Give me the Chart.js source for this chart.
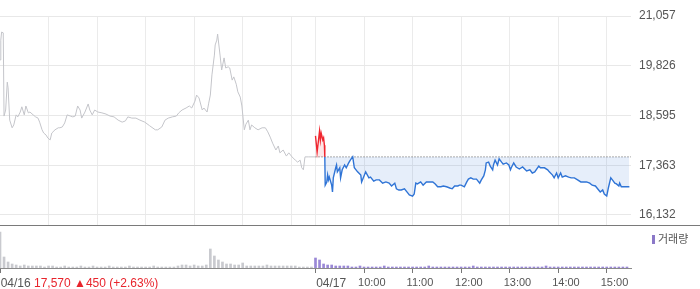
<!DOCTYPE html>
<html lang="ko">
<head>
<meta charset="utf-8">
<title>주가 차트</title>
<script src="https://cdn.jsdelivr.net/npm/chart.js@4.4.1/dist/chart.umd.min.js"></script>
<style>
  body { margin: 0; background: #fff; }
  #wrap { position: relative; width: 700px; height: 289px; font-family: 'Liberation Sans', Arial, sans-serif; }
  #pricePane { height: 225px; border-bottom: 1px solid #7a7a7a; }
  #volumePane { height: 63px; }
  canvas { display: block; }
  #quote { position: absolute; left: 34px; top: 276px; font-size: 12px; line-height: 14px; color: #e8242c; white-space: nowrap; }
  #volLegend { position: absolute; left: 652px; top: 231px; font-size: 11px; line-height: 14px; color: #555; font-family: 'Noto Sans CJK KR', sans-serif; }
  #volLegend i { display: inline-block; width: 3px; height: 9px; background: #8b78c8; margin-right: 3px; vertical-align: -1px; }
</style>
</head>
<body>
<div id="wrap">
  <div id="pricePane"><canvas id="priceChart" width="700" height="225"></canvas></div>
  <div id="volumePane"><canvas id="volumeChart" width="700" height="63"></canvas></div>
  <span id="quote">17,570 ▲450 (+2.63%)</span>
  <div id="volLegend"><i></i>거래량</div>
</div>
<script>
// 시간축: 04/16 09:00 부터 분 단위 (하루 390분, 이틀 780분)
const sessionEnd = 780;
const prevClose = 17570;

// 04/16 (회색)
const day1Minutes = [0,1,2,4,5,7,9,10,12,15,17,20,22,25,27,30,32,35,37,41,44,47,49,52,54,57,59,62,64,68,72,74,77,80,83,87,90,93,96,99,101,105,109,111,114,117,121,126,131,136,141,146,151,155,158,163,168,173,179,185,192,195,200,204,208,213,218,221,225,230,234,237,241,243,246,250,252,256,258,260,262,265,266,268,269,272,274,277,279,282,284,287,289,292,294,297,299,302,304,307,309,311,315,319,324,328,331,334,337,341,344,346,350,354,357,361,365,368,371,373,375,377,381,390];
const day1Prices = [19970,20460,20660,20640,18580,18730,19420,19280,18480,18290,18360,18610,18560,18680,18810,18610,18830,18660,18680,18610,18560,18530,18430,18240,18160,18110,18040,17990,18160,18240,18290,18290,18310,18410,18610,18580,18560,18580,18830,18730,18530,18680,18880,18730,18610,18730,18680,18660,18630,18580,18560,18480,18430,18460,18560,18530,18530,18480,18430,18340,18240,18240,18310,18480,18530,18560,18580,18660,18730,18780,18830,18780,18950,19100,19030,18730,18780,18680,18900,19100,19600,20090,20340,20460,20610,20090,19720,20020,19770,19800,19770,19470,19550,19370,19180,19050,18830,18240,18380,18480,18240,18360,18290,18240,18290,18290,18190,18060,17910,17740,17840,17670,17740,17590,17670,17570,17490,17440,17490,17300,17250,17570,17570,17570];

// 04/17 (전일 종가 위 빨강, 아래 파랑)
const day2Minutes = [390,392,395,396,397,399,400,401,401.5,402,404,405,406,407,410,411,412,415,416,417,420,421,423,426,428,431,433,436,438,442,446,447,449,452,456,458,462,465,469,473,477,481,484,488,490,493,496,500,504,506,510,512,514,516,520,523,527,531,535,538,541,545,548,552,556,559,562,566,568,570,574,577,579,582,585,589,593,595,598,600,601,604,606,609,610,612,615,617,620,622,626,629,631,632,635,638,642,646,651,655,658,661,666,668,673,677,679,683,685,688,690,693,695,699,703,706,710,714,718,721,725,729,732,736,740,742,745,747,750,752,755,757,760,762,765,766,768,772,778];
const day2Prices = [18090,17690,18210,17990,18160,17990,18040,17860,17570,16870,16950,17120,17000,17070,16870,16700,17050,17300,17370,17200,17300,17050,17250,17370,17300,17420,17490,17570,17300,17200,17120,16950,17050,17200,17050,17070,16970,17000,17000,16920,16950,16920,16850,16920,16780,16750,16750,16780,16680,16630,16600,16650,16920,16900,16950,16870,16950,16950,16950,16900,16830,16830,16850,16830,16800,16780,16850,16850,16870,16870,16830,16950,17020,17050,17020,17020,16920,17000,17100,17250,17420,17440,17340,17250,17370,17490,17370,17520,17440,17390,17420,17370,17250,17300,17420,17320,17270,17320,17220,17250,17170,17200,17340,17300,17300,17250,17200,17120,17050,17170,17050,17170,17070,17100,17070,17050,17050,17000,16950,16950,16950,16920,16870,16850,16750,16700,16750,16650,16600,16800,17050,17000,16920,16900,16850,16920,16830,16830,16830];

// 거래량 (5분 단위, 천주)
const binMinutes = 5;
const day1Volume = [36,11,6,4,3,2,3,2,2,2, 2,1,2,2,1,1,2,1,1,1, 2,1,1,2,1,1,1,2,1,1, 1,1,2,1,1,1,1,1,2,1, 1,1,1,1,2,3,3,2,3,2, 2,3,19,12,8,6,4,4,3,3, 5,2,2,2,2,2,3,2,2,2, 2,2,2,2,1,1,1,1];
const day2Volume = [10,8,4,3,3,2,2,2,2,1, 1,2,1,1,1,1,1,2,1,1, 1,1,1,1,1,1,1,1,2,1, 1,1,1,1,1,1,1,1,1,2, 1,1,1,1,1,1,1,1,1,1, 1,1,1,1,1,1,1,2,1,1, 1,1,1,1,1,1,1,1,1,1, 1,1,1,1,1,1,1,1];
const volumeMax = 40;

// 축 눈금
const yTicks = [16132, 17363, 18595, 19826, 21057];
const yMin = 15884;
const gridMinutes = [60,120,180,240,300,360,390,450,510,570,630,690,750];
const dateTicks = [0, 390];
const dateLabels = ['04/16', '04/17'];
const hourTicks = [450, 510, 570, 630, 690, 750];
const hourLabels = ['10:00', '11:00', '12:00', '13:00', '14:00', '15:00'];

const fontFamily = "'Liberation Sans', Arial, sans-serif";
const axisWidth = 69;
const timeAxisHeight = 21;
const red = '#f0262f';
const blue = '#2f74d6';

document.addEventListener('DOMContentLoaded', () => {
    const toPoints = (xs, ys) => xs.map((x, i) => ({ x: x, y: ys[i] }));

    // 가격 차트
    new Chart(document.getElementById('priceChart'), {
        type: 'line',
        data: {
            datasets: [
                {
                    data: toPoints(day1Minutes, day1Prices),
                    borderColor: '#c4c5ca',
                    borderWidth: 1,
                    pointRadius: 0,
                    fill: false
                },
                {
                    data: toPoints(day2Minutes, day2Prices),
                    borderWidth: 1.4,
                    pointRadius: 0,
                    segment: {
                        borderColor: c => (c.p0.parsed.y + c.p1.parsed.y) / 2 >= prevClose ? red : blue
                    },
                    fill: {
                        target: { value: prevClose },
                        above: 'rgba(240, 60, 70, 0.13)',
                        below: 'rgba(60, 120, 220, 0.13)'
                    }
                },
                {
                    // 전일 종가 점선
                    data: [{ x: dateTicks[1], y: prevClose }, { x: sessionEnd, y: prevClose }],
                    borderColor: '#555',
                    borderWidth: 1,
                    borderDash: [1, 2],
                    pointRadius: 0,
                    fill: false
                }
            ]
        },
        options: {
            responsive: false,
            animation: false,
            layout: { padding: { top: 16, left: 0, right: 0, bottom: 0 } },
            plugins: { legend: { display: false }, tooltip: { enabled: false } },
            scales: {
                x: {
                    type: 'linear',
                    min: 0,
                    max: sessionEnd,
                    afterBuildTicks: s => { s.ticks = gridMinutes.map(v => ({ value: v })); },
                    ticks: { display: false },
                    grid: { color: '#ebebeb', drawTicks: false },
                    border: { display: false }
                },
                y: {
                    position: 'right',
                    min: yMin,
                    max: yTicks[yTicks.length - 1],
                    afterBuildTicks: s => { s.ticks = yTicks.map(v => ({ value: v })); },
                    afterFit: s => {
                        s.width = axisWidth;
                        // 라벨 때문에 위아래 여백이 생기지 않게
                        s.paddingTop = 0;
                        s.paddingBottom = 0;
                    },
                    ticks: {
                        padding: 8,
                        color: '#555',
                        font: { family: fontFamily, size: 12 },
                        callback: v => v.toLocaleString('en-US')
                    },
                    grid: { color: '#e8e8e8', drawTicks: false },
                    border: { display: false }
                }
            }
        }
    });

    // 거래량 차트
    new Chart(document.getElementById('volumeChart'), {
        type: 'bar',
        data: {
            datasets: [
                {
                    data: day1Volume.map((v, i) => ({ x: i * binMinutes, y: v })),
                    backgroundColor: '#c9cacf',
                    barThickness: 2,
                    grouped: false
                },
                {
                    data: day2Volume.map((v, i) => ({ x: dateTicks[1] + i * binMinutes, y: v })),
                    backgroundColor: '#9a88d6',
                    barThickness: 2,
                    grouped: false
                }
            ]
        },
        options: {
            responsive: false,
            animation: false,
            layout: { padding: { top: 2, left: 0, right: axisWidth, bottom: 0 } },
            plugins: { legend: { display: false }, tooltip: { enabled: false } },
            scales: {
                x: {
                    type: 'linear',
                    min: 0,
                    max: sessionEnd,
                    offset: false,
                    afterBuildTicks: s => { s.ticks = dateTicks.concat(hourTicks).map(v => ({ value: v })); },
                    afterFit: s => {
                        s.height = timeAxisHeight;
                        s.paddingLeft = 0;
                        s.paddingRight = 0;
                    },
                    ticks: {
                        autoSkip: false,
                        maxRotation: 0,
                        align: 'start',
                        labelOffset: -6,
                        padding: 3,
                        color: '#555',
                        font: c => ({ family: fontFamily, size: c.tick && dateTicks.includes(c.tick.value) ? 12 : 11 }),
                        callback: v => {
                            const d = dateTicks.indexOf(v);
                            // 날짜는 눈금 바로 오른쪽에서 시작
                            if (d >= 0) return '  ' + dateLabels[d];
                            return hourLabels[hourTicks.indexOf(v)];
                        }
                    },
                    grid: { drawOnChartArea: false, tickLength: 5, color: '#777', offset: false },
                    border: { display: true, color: '#8a8a8a' }
                },
                y: { display: false, min: 0, max: volumeMax }
            }
        }
    });
});
</script>
</body>
</html>
